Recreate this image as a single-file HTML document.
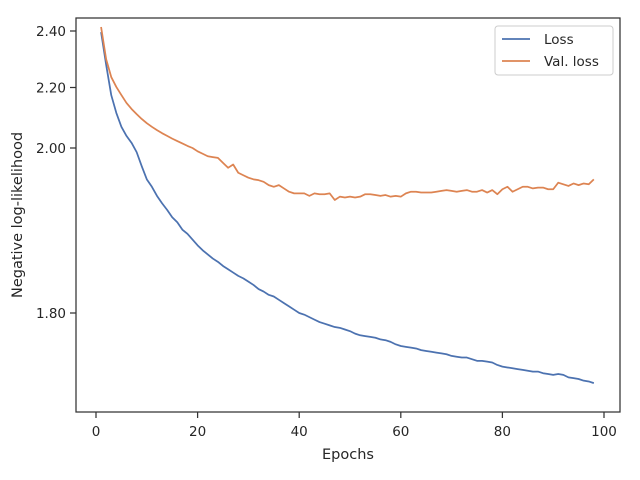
<!DOCTYPE html>
<html><head><meta charset="utf-8"><style>
body{margin:0;background:#fff;}
svg{display:block;font-family:"DejaVu Sans","Liberation Sans",sans-serif;}
</style></head><body>
<svg id="chart" width="640" height="480">
<rect x="76" y="18" width="544" height="394" fill="#fff" stroke="#333" stroke-width="1.25"/>
<g id="ticks"></g>
<g id="series"></g>
<text x="348" y="459" text-anchor="middle" font-size="14.5" fill="#262626">Epochs</text>
<text transform="translate(22,215) rotate(-90)" text-anchor="middle" font-size="14.5" fill="#262626">Negative log-likelihood</text>
<g>
<rect x="495" y="26" width="118" height="49" rx="3" fill="#fff" stroke="#ccc"/>
<line x1="502" y1="39" x2="530" y2="39" stroke="#4c72b0" stroke-width="1.75"/>
<text x="544" y="44" font-size="13.5" fill="#262626">Loss</text>
<line x1="502" y1="61" x2="530" y2="61" stroke="#dd8452" stroke-width="1.75"/>
<text x="544" y="66" font-size="13.5" fill="#262626">Val. loss</text>
</g>
</svg>
<script>
const loss=[2.396,2.28,2.175,2.116,2.07,2.04,2.017,1.995,1.978,1.962,1.953,1.942,1.933,1.925,1.916,1.910,1.901,1.896,1.889,1.882,
1.876,1.871,1.866,1.862,1.857,1.853,1.849,1.845,1.842,1.838,1.834,1.829,1.826,1.822,1.820,1.816,1.812,1.808,1.804,1.800,
1.798,1.795,1.792,1.789,1.787,1.785,1.783,1.782,1.780,1.778,1.775,1.773,1.772,1.771,1.770,1.768,1.767,1.765,1.762,1.760,
1.759,1.758,1.757,1.755,1.754,1.753,1.752,1.751,1.750,1.748,1.747,1.746,1.746,1.744,1.742,1.742,1.741,1.740,1.737,1.735,
1.734,1.733,1.732,1.731,1.730,1.729,1.729,1.727,1.726,1.725,1.726,1.725,1.722,1.721,1.720,1.718,1.717,1.715];
const valLoss=[2.414,2.30,2.237,2.202,2.175,2.149,2.129,2.112,2.096,2.082,2.070,2.059,2.049,2.040,2.031,2.023,2.015,2.007,2.000,1.996,
1.993,1.990,1.989,1.988,1.982,1.976,1.980,1.970,1.967,1.964,1.962,1.961,1.959,1.955,1.953,1.955,1.951,1.947,1.945,1.945,
1.945,1.942,1.945,1.944,1.944,1.945,1.937,1.941,1.940,1.941,1.940,1.941,1.944,1.944,1.943,1.942,1.943,1.941,1.942,1.941,
1.945,1.947,1.947,1.946,1.946,1.946,1.947,1.948,1.949,1.948,1.947,1.948,1.949,1.947,1.947,1.949,1.946,1.949,1.944,1.950,
1.953,1.947,1.950,1.953,1.953,1.951,1.952,1.952,1.950,1.950,1.958,1.956,1.954,1.957,1.955,1.957,1.956,1.962];
const xTicks=[0,20,40,60,80,100];
const yTicks=[1.80,2.00,2.20,2.40];
const yTickLabels=["1.80","2.00","2.20","2.40"];

const NS="http://www.w3.org/2000/svg";
function xs(e){return 96+5.08*e;}
const yk=[[1.8,313],[2.0,148],[2.2,87.5],[2.4,31]];
function ys(v){
  let i=0;
  if(v<=yk[0][0])i=0;else if(v>=yk[3][0])i=2;else{for(i=0;i<3;i++)if(v<=yk[i+1][0])break;}
  const a=yk[i],b=yk[i+1];
  return a[1]+(v-a[0])*(b[1]-a[1])/(b[0]-a[0]);
}
const tg=document.getElementById('ticks');
xTicks.forEach(t=>{
  const l=document.createElementNS(NS,'line');
  l.setAttribute('x1',xs(t));l.setAttribute('x2',xs(t));l.setAttribute('y1',412);l.setAttribute('y2',418);
  l.setAttribute('stroke','#333');l.setAttribute('stroke-width','1.25');
  
  
  tg.appendChild(l);
  const tx=document.createElementNS(NS,'text');
  tx.setAttribute('x',xs(t));tx.setAttribute('y',436);tx.setAttribute('text-anchor','middle');
  tx.setAttribute('font-size','13.5');tx.setAttribute('fill','#262626');tx.textContent=t;
  
  
  tg.appendChild(tx);
});
yTicks.forEach((t,i)=>{
  const l=document.createElementNS(NS,'line');
  l.setAttribute('x1',70);l.setAttribute('x2',76);l.setAttribute('y1',ys(t));l.setAttribute('y2',ys(t));
  l.setAttribute('stroke','#333');l.setAttribute('stroke-width','1.25');
  
  
  tg.appendChild(l);
  const tx=document.createElementNS(NS,'text');
  tx.setAttribute('x',66);tx.setAttribute('y',ys(t)+5);tx.setAttribute('text-anchor','end');
  tx.setAttribute('font-size','13.5');tx.setAttribute('fill','#262626');tx.textContent=yTickLabels[i];
  
  
  tg.appendChild(tx);
});
const sg=document.getElementById('series');
function draw(arr,color,name){
  const p=document.createElementNS(NS,'polyline');
  p.setAttribute('points',arr.map((v,i)=>xs(i+1)+','+ys(v)).join(' '));
  p.setAttribute('fill','none');p.setAttribute('stroke',color);p.setAttribute('stroke-width','1.75');
  p.setAttribute('stroke-linejoin','round');
  
  
  sg.appendChild(p);
}
draw(loss,'#4c72b0','loss-line');
draw(valLoss,'#dd8452','val-loss-line');
</script>
</body></html>
